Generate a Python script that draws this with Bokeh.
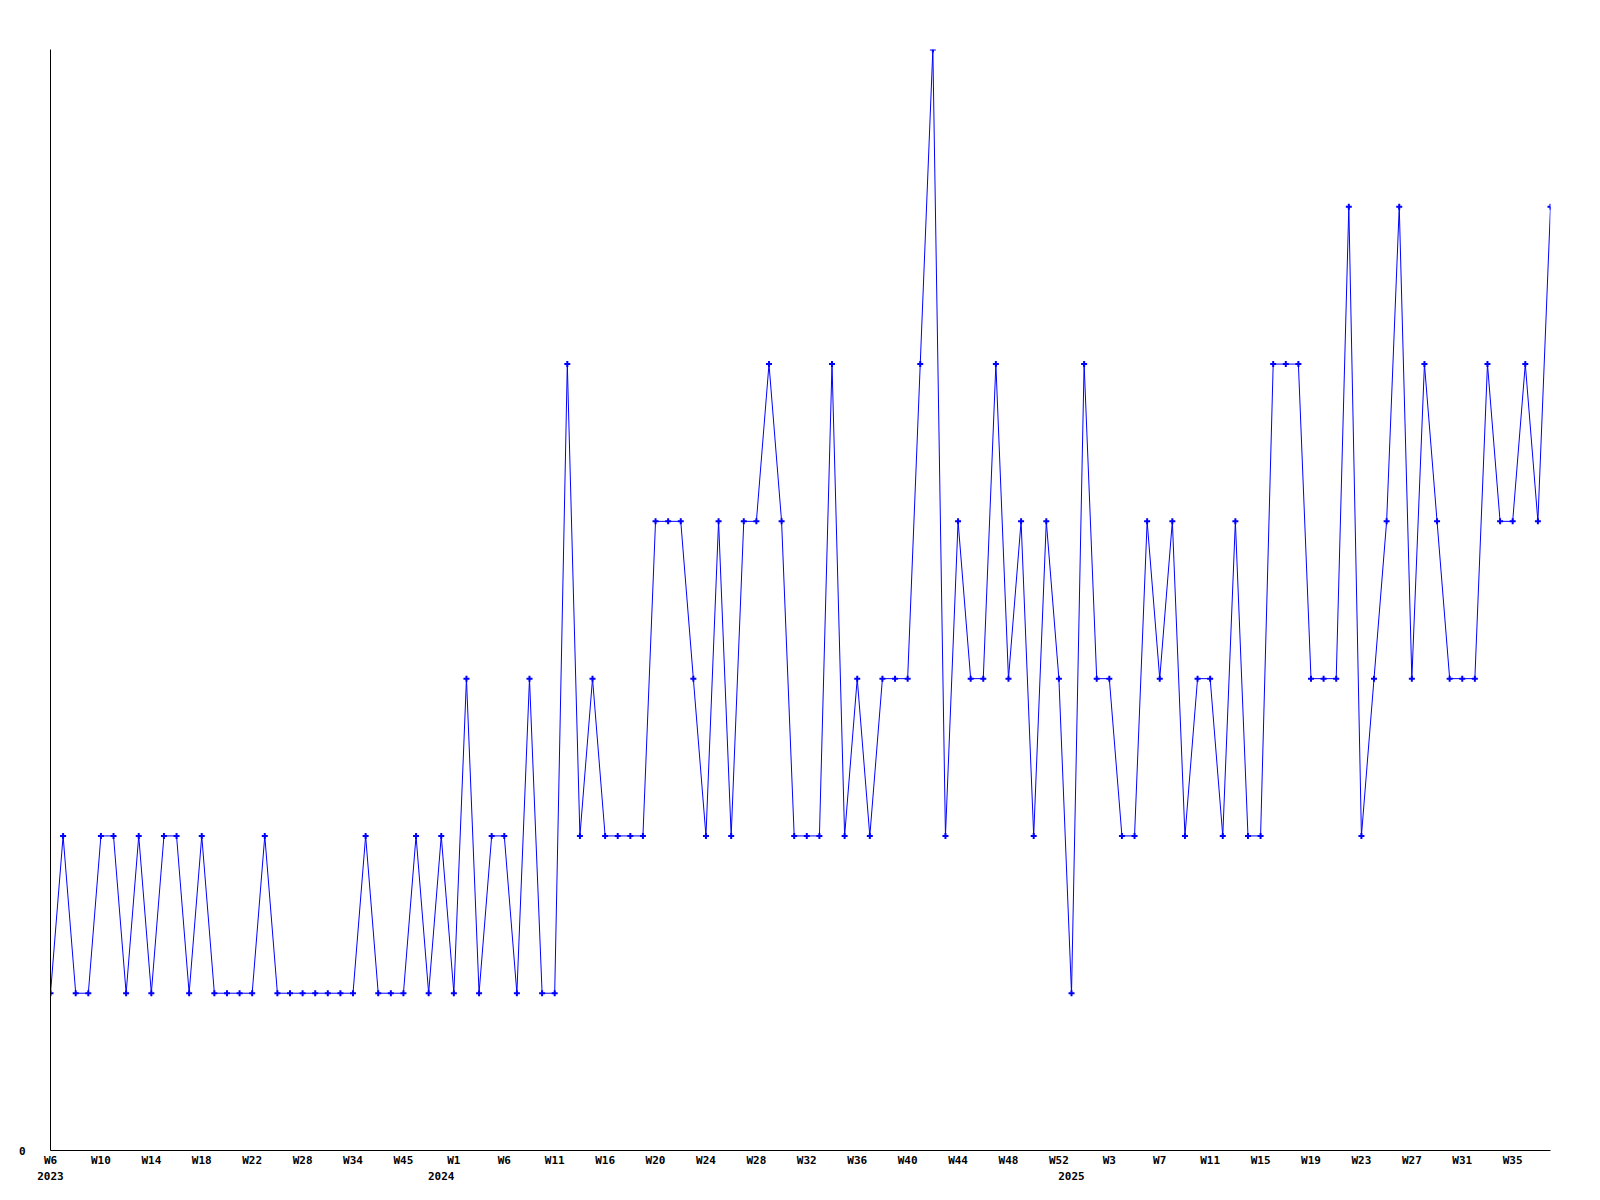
from bokeh.plotting import figure
from bokeh.models import ColumnDataSource, Range1d, LinearAxis, FixedTicker
from bokeh.embed import file_html
from bokeh.resources import INLINE

# ---- data ----
values = [1, 2, 1, 1, 2, 2, 1, 2, 1, 2, 2, 1, 2, 1, 1, 1,
          1, 2, 1, 1, 1, 1, 1, 1, 1, 2, 1, 1, 1, 2, 1, 2,
          1, 3, 1, 2, 2, 1, 3, 1, 1, 5, 2, 3, 2, 2, 2, 2,
          4, 4, 4, 3, 2, 4, 2, 4, 4, 5, 4, 2, 2, 2, 5, 2,
          3, 2, 3, 3, 3, 5, 7, 2, 4, 3, 3, 5, 3, 4, 2, 4,
          3, 1, 5, 3, 3, 2, 2, 4, 3, 4, 2, 3, 3, 2, 4, 2,
          2, 5, 5, 5, 3, 3, 3, 6, 2, 3, 4, 6, 3, 5, 4, 3,
          3, 3, 5, 4, 4, 5, 4, 6]
week_tick_labels = ["W6", "W10", "W14", "W18", "W22", "W28", "W34", "W45",
                    "W1", "W6", "W11", "W16", "W20", "W24", "W28", "W32",
                    "W36", "W40", "W44", "W48", "W52", "W3", "W7", "W11",
                    "W15", "W19", "W23", "W27", "W31", "W35"]
tick_step = 4
year_labels = ["2023", "2024", "2025"]
year_start_index = [0, 31, 81]
y_ticks = [0]

x = list(range(len(values)))
src = ColumnDataSource(data=dict(x=x, y=values))

FONT = "DejaVu Sans Mono"

p = figure(width=1590, height=1192, output_backend="svg", toolbar_location=None,
           x_range=Range1d(0, len(values) - 1), y_range=Range1d(0, 7),
           min_border_left=50, min_border_right=40, min_border_top=49,
           min_border_bottom=42, x_axis_type=None, y_axis_type=None)
p.outline_line_color = None
p.background_fill_color = "white"
p.border_fill_color = "white"
p.xgrid.visible = False
p.ygrid.visible = False

p.line("x", "y", source=src, line_color="#0000ff", line_width=1)
p.scatter("x", "y", source=src, marker="cross", size=6, line_width=2,
          line_color="#0000ff")

def style_axis(ax, standoff):
    ax.axis_line_color = "black"
    ax.axis_line_width = 1
    ax.major_tick_line_color = None
    ax.minor_tick_line_color = None
    ax.major_tick_out = 0
    ax.major_tick_in = 0
    ax.major_label_text_font = FONT
    ax.major_label_text_font_style = "bold"
    ax.major_label_text_font_size = "11px"
    ax.major_label_text_color = "black"
    ax.major_label_standoff = standoff

# y axis: only 0
yax = LinearAxis(ticker=FixedTicker(ticks=y_ticks))
style_axis(yax, 25)
p.add_layout(yax, "left")

# week axis
wticks = [i * tick_step for i in range(len(week_tick_labels))]
xax = LinearAxis(ticker=FixedTicker(ticks=wticks),
                 major_label_overrides={t: lab for t, lab in zip(wticks, week_tick_labels)})
style_axis(xax, 3)
p.add_layout(xax, "below")

# year axis
yrax = LinearAxis(ticker=FixedTicker(ticks=year_start_index),
                  major_label_overrides={t: lab for t, lab in zip(year_start_index, year_labels)})
style_axis(yrax, 2)
yrax.axis_line_color = None
p.add_layout(yrax, "below")

open("out.html", "w").write(file_html(p, INLINE))
